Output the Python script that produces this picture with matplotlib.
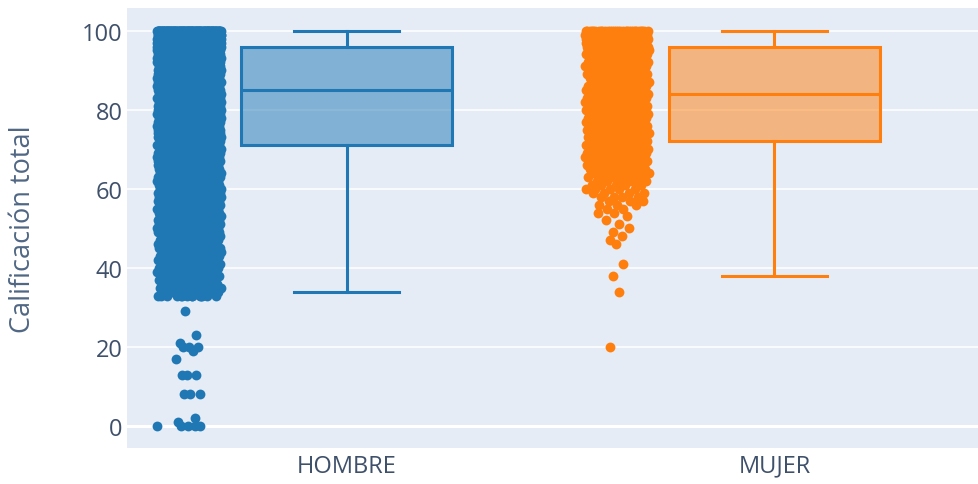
#!/usr/bin/env python3
"""Box plot with all points: Calificación total por sexo."""

import matplotlib

matplotlib.use("Agg")
import matplotlib.pyplot as plt
import numpy as np

# Categories and colours
categories = ["HOMBRE", "MUJER"]
colors = ["#1f77b4", "#ff7f0e"]

# Box statistics
box_q1 = [71, 72]
box_median = [85, 84]
box_q3 = [96, 96]
box_low = [34, 38]
box_high = [100, 100]

# HOMBRE: integer scores 33..100 and how many students got each one
hombre_scores = list(range(33, 101))
hombre_counts = [
    14, 12, 9, 8, 9, 10, 10, 11, 12, 12,     # 33-42
    13, 13, 14, 14, 15, 15, 16, 16,          # 43-50
    17, 17, 18, 18, 19, 19, 20, 20, 21, 21,  # 51-60
    22, 22, 23, 23, 24, 24, 25, 25, 26, 26,  # 61-70
    28, 29, 30, 31, 32, 33, 34, 35, 36, 37, 38, 38, 39, 40,  # 71-84
    40, 41, 42, 43, 44, 44, 45, 46, 46, 47, 48,  # 85-95
    95, 98, 100, 105, 120,                   # 96-100
]
# HOMBRE outliers below the lower whisker
hombre_low = [29, 23, 21, 20, 20, 20, 19, 17, 13, 13, 13, 8, 8, 8, 2, 1, 0, 0, 0, 0, 0]

# MUJER: integer scores 53..100 and counts
mujer_scores = list(range(53, 101))
mujer_counts = [
    1, 1, 2, 3, 3, 4, 4, 5, 5, 6, 6,         # 53-63
    7, 8, 8, 9, 10, 10, 11, 12,              # 64-71
    8, 9, 9, 10, 10, 10, 11, 11, 11, 12, 12, 13,  # 72-83
    9, 9, 10, 10, 10, 10, 11, 11, 11, 12, 12, 12,  # 84-95
    22, 23, 25, 27, 30,                      # 96-100
]
# MUJER low values
mujer_low = [20, 34, 38, 41, 46, 47, 48, 49, 50, 51, 52, 54]


def expand(scores, counts, extra):
    vals = []
    for s, c in zip(scores, counts):
        vals.extend([s] * c)
    vals.extend(extra)
    return np.sort(np.array(vals, dtype=float))


def density_jitter(vals, iqr, half):
    """Plotly-style jitter: narrower where points are sparse."""
    n = len(vals)
    min_spread = iqr * 0.01
    factors = np.zeros(n)
    for i in range(n):
        i0 = max(0, i - 5)
        i1 = min(n - 1, i + 5)
        spread = vals[i1] - vals[i0]
        f = np.sqrt(min_spread * (i1 - i0) / (spread + min_spread))
        factors[i] = min(1.0, f)
    factors /= factors.max()
    # deterministic low-discrepancy sequence in place of random numbers
    seq = (np.arange(n) * 0.6180339887) % 1.0 - 0.5
    return factors * seq * 2 * half


def main():
    plt.rcParams["font.family"] = ["Open Sans", "DejaVu Sans"]
    tick_color = "#3f506b"
    title_color = "#506784"

    fig = plt.figure(figsize=(9.79, 4.85), dpi=100)
    ax = fig.add_axes([0.1297, 0.0742, 0.8703, 0.9072])
    ax.set_facecolor("#E5ECF6")

    groups = [
        expand(hombre_scores, hombre_counts, hombre_low),
        expand(mujer_scores, mujer_counts, mujer_low),
    ]

    # jittered points to the left of each box
    point_offset = -0.368
    for i, vals in enumerate(groups):
        iqr = box_q3[i] - box_q1[i]
        xs = i + point_offset + density_jitter(vals, iqr, 0.075)
        ax.scatter(xs, vals, s=50, color=colors[i], linewidths=0, zorder=3)

    # boxes
    for i in range(len(categories)):
        stats = [{
            "med": box_median[i],
            "q1": box_q1[i],
            "q3": box_q3[i],
            "whislo": box_low[i],
            "whishi": box_high[i],
            "fliers": [],
        }]
        lw = 2.2
        bp = ax.bxp(
            stats,
            positions=[i],
            widths=0.495,
            capwidths=0.245,
            patch_artist=True,
            showfliers=False,
            manage_ticks=False,
            boxprops=dict(edgecolor=colors[i], linewidth=lw),
            medianprops=dict(color=colors[i], linewidth=lw),
            whiskerprops=dict(color=colors[i], linewidth=lw),
            capprops=dict(color=colors[i], linewidth=lw),
        )
        for patch in bp["boxes"]:
            patch.set_facecolor(matplotlib.colors.to_rgba(colors[i], 0.5))
            patch.set_zorder(3)

    ax.set_xlim(-0.513, 1.478)
    ax.set_ylim(-5.57, 105.74)

    ax.set_xticks(range(len(categories)))
    ax.set_xticklabels(categories)
    ax.set_yticks([0, 20, 40, 60, 80, 100])

    ax.yaxis.grid(True, color="white", linewidth=1.1, zorder=0)
    ax.set_axisbelow(True)
    ax.axhline(0, color="white", linewidth=2.2, zorder=1)

    for spine in ax.spines.values():
        spine.set_visible(False)

    ax.tick_params(axis="both", length=0, labelsize=17, labelcolor=tick_color)
    ax.tick_params(axis="y", pad=3)
    ax.tick_params(axis="x", pad=4)

    ax.set_ylabel("Calificación total", fontsize=19.5, color=title_color)
    ax.yaxis.set_label_coords(-0.106, 0.5)

    fig.savefig("out.png", dpi=100)


if __name__ == "__main__":
    main()
